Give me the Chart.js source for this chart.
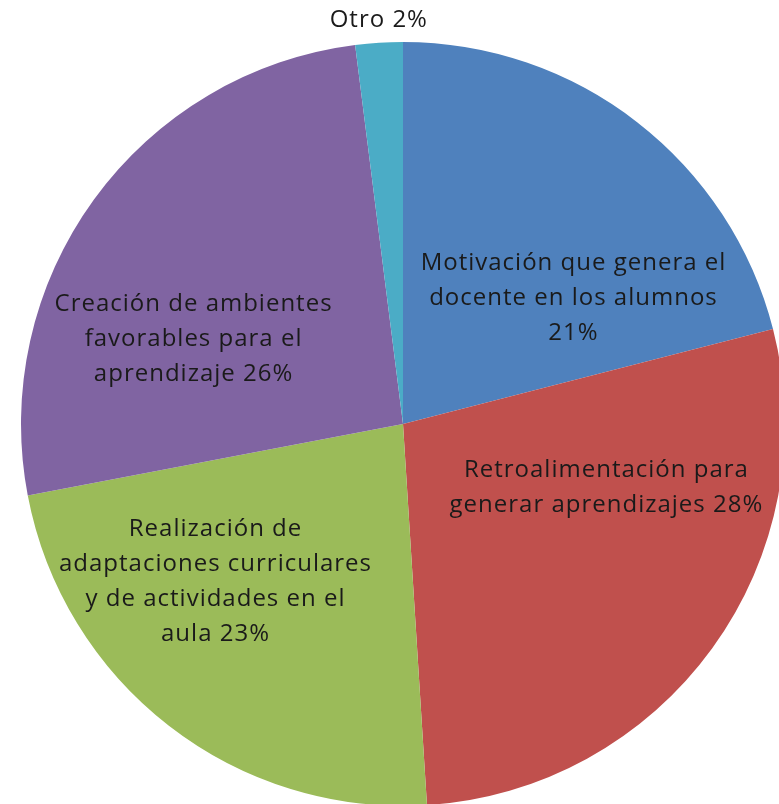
<!DOCTYPE html>
<html>
<head>
<meta charset="utf-8">
<script src="https://cdn.jsdelivr.net/npm/chart.js@4"></script>
<style>
  html, body { margin: 0; padding: 0; background: #fff; overflow: hidden; }
  #wrap { position: absolute; left: 0; top: 0; width: 810px; height: 810px; }
</style>
</head>
<body>
<div id="wrap"><canvas id="pieChart" width="810" height="810"></canvas></div>
<script>
const categories = [
    'Motivación que genera el docente en los alumnos',
    'Retroalimentación para generar aprendizajes',
    'Realización de adaptaciones curriculares y de actividades en el aula',
    'Creación de ambientes favorables para el aprendizaje',
    'Otro'
];
const values = [21, 28, 23, 26, 2];
const labelLines = [
    ['Motivación que genera el', 'docente en los alumnos', '21%'],
    ['Retroalimentación para', 'generar aprendizajes 28%'],
    ['Realización de', 'adaptaciones curriculares', 'y de actividades en el', 'aula 23%'],
    ['Creación de ambientes', 'favorables para el', 'aprendizaje 26%'],
    ['Otro 2%']
];
const colors = ['#4F81BD', '#C0504D', '#9BBB59', '#8064A2', '#4BACC6'];

// label placement: fraction of radius along the slice middle, then a nudge
const labelRadius = [0.6, 0.6, 0.6, 0.6, 1.05];
const labelNudge = [[30, 55], [18, -71], [-47, -23], [-24, 50], [1, -4]];

const sliceLabels = {
    id: 'sliceLabels',
    afterDatasetsDraw(chart) {
        const ctx = chart.ctx;
        const arcs = chart.getDatasetMeta(0).data;
        ctx.save();
        ctx.font = '24px "Open Sans"';
        ctx.letterSpacing = '1px';
        ctx.fillStyle = '#1a1a1a';
        ctx.textAlign = 'center';
        ctx.textBaseline = 'middle';
        const lineH = 35;
        arcs.forEach((arc, i) => {
            const mid = (arc.startAngle + arc.endAngle) / 2;
            const r = arc.outerRadius * labelRadius[i];
            const cx = arc.x + Math.cos(mid) * r + labelNudge[i][0];
            const cy = arc.y + Math.sin(mid) * r + labelNudge[i][1];
            const lines = labelLines[i];
            const top = cy - (lines.length - 1) * lineH / 2;
            lines.forEach((t, j) => ctx.fillText(t, cx, top + j * lineH));
        });
        ctx.restore();
    }
};

new Chart(document.getElementById('pieChart'), {
    type: 'pie',
    data: {
        labels: categories,
        datasets: [{
            data: values,
            backgroundColor: colors,
            borderWidth: 0
        }]
    },
    options: {
        responsive: false,
        animation: false,
        layout: { padding: { left: 21, right: 25, top: 42, bottom: 4 } },
        plugins: {
            legend: { display: false },
            tooltip: { enabled: false }
        }
    },
    plugins: [sliceLabels]
});
</script>
</body>
</html>
